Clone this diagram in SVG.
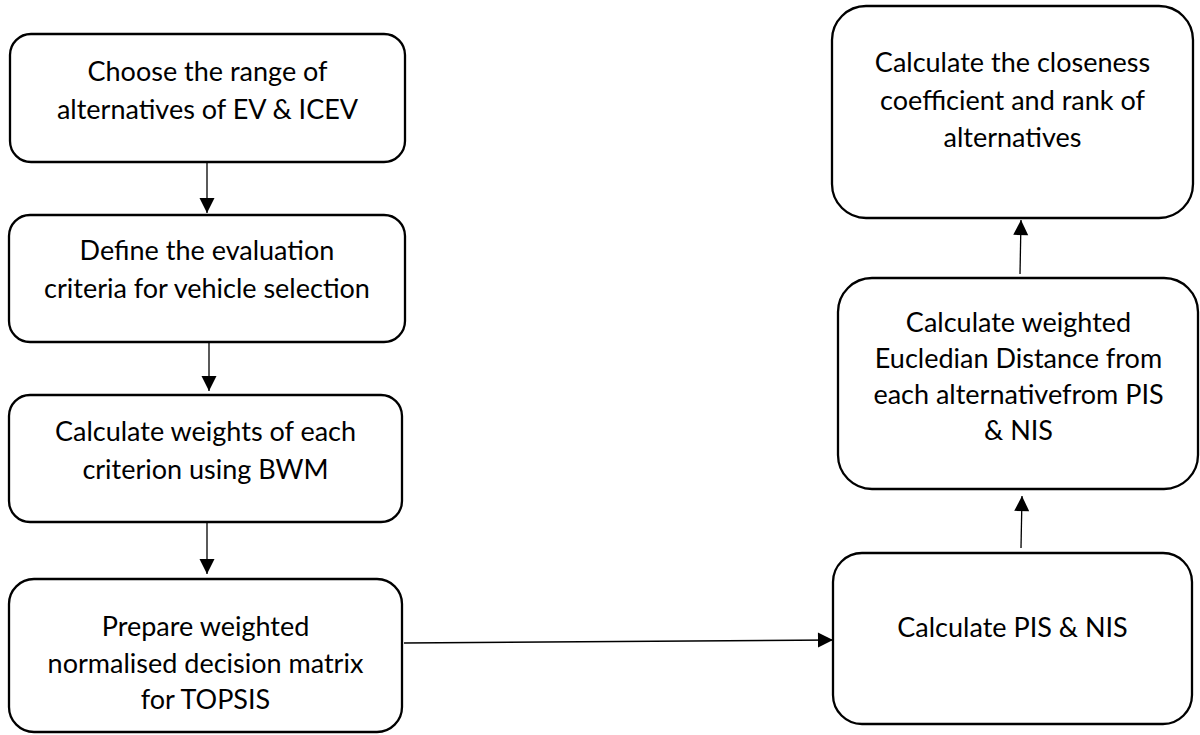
<svg xmlns="http://www.w3.org/2000/svg" width="1200" height="735" viewBox="0 0 1200 735">
<style>
.box{fill:#fff;stroke:#000;stroke-width:2.3}
.t{font-family:Lato,"Liberation Sans",sans-serif;font-size:27px;fill:#000;text-anchor:middle}
.c{stroke:#000;stroke-width:1.3;fill:none;marker-end:url(#ah)}
</style>
<defs>
<marker id="ah" markerUnits="userSpaceOnUse" markerWidth="16" markerHeight="16" refX="15" refY="7.5" orient="auto" overflow="visible">
<path d="M0,0 L15,7.5 L0,15 z" fill="#000"/>
</marker>
</defs>
<rect width="1200" height="735" fill="#fff"/>
<g id="n1"><rect class="box" x="10" y="34" width="395" height="128" rx="21"/>
<text class="t" x="207.5" y="81">Choose the range of</text>
<text class="t" x="207.5" y="119">alternatives of EV &amp; ICEV</text></g>
<g id="n2"><rect class="box" x="9" y="215" width="396" height="127" rx="21"/>
<text class="t" x="207" y="260">Define the evaluation</text>
<text class="t" x="207" y="298">criteria for vehicle selection</text></g>
<g id="n3"><rect class="box" x="9" y="395" width="393" height="127" rx="21"/>
<text class="t" x="205.5" y="441">Calculate weights of each</text>
<text class="t" x="205.5" y="479">criterion using BWM</text></g>
<g id="n4"><rect class="box" x="9" y="579" width="393" height="153" rx="25"/>
<text class="t" x="205.5" y="636">Prepare weighted</text>
<text class="t" x="205.5" y="673">normalised decision matrix</text>
<text class="t" x="205.5" y="709">for TOPSIS</text></g>
<g id="n5"><rect class="box" x="833" y="553" width="359" height="171" rx="29"/>
<text class="t" x="1012.5" y="637">Calculate PIS &amp; NIS</text></g>
<g id="n6"><rect class="box" x="838" y="278" width="360" height="211" rx="34"/>
<text class="t" x="1018.5" y="332">Calculate weighted</text>
<text class="t" x="1018.5" y="368">Eucledian Distance from</text>
<text class="t" x="1018.5" y="404">each alternativefrom PIS</text>
<text class="t" x="1018.5" y="440">&amp; NIS</text></g>
<g id="n7"><rect class="box" x="832" y="6" width="361" height="212" rx="34"/>
<text class="t" x="1012.5" y="72">Calculate the closeness</text>
<text class="t" x="1012.5" y="110">coefficient and rank of</text>
<text class="t" x="1012.5" y="147">alternatives</text></g>
<g id="connectors">
<path class="c" d="M207,162 L207,213"/>
<path class="c" d="M209,342 L209,391"/>
<path class="c" d="M207,522 L207,574"/>
<path class="c" d="M404,643 L833,640"/>
<path class="c" d="M1021,548 L1022,496"/>
<path class="c" d="M1020,274 L1021,220"/>
</g>
</svg>
